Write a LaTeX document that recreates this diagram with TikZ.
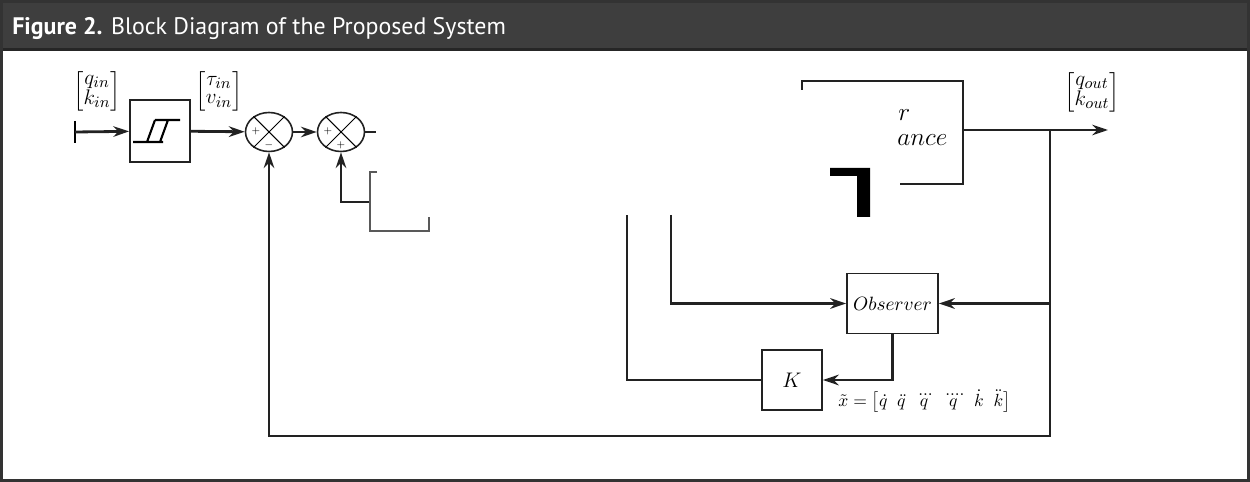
\documentclass[tikz,border=0pt]{standalone}
\usepackage{amsmath,amssymb}
\usepackage{fontspec}
\newfontfamily\headfont{PT Sans}
\usepackage{tikz}
\usetikzlibrary{shapes.geometric, arrows.meta, positioning, calc}
\definecolor{headgray}{HTML}{3E3E3E}
\definecolor{linegray}{HTML}{222222}

\begin{document}
\begin{tikzpicture}[x=0.02cm, y=-0.02cm,
    block/.style={rectangle, draw=linegray, line width=1pt, minimum width=1.2cm, minimum height=1.2cm, align=center, inner sep=0pt},
    summer/.style={ellipse, draw=linegray, line width=0.9pt, minimum width=0.94cm, minimum height=0.78cm, inner sep=0pt},
    sign/.style={font=\tiny, inner sep=0pt},
    arrow/.style={-{Stealth[length=9pt, width=6pt]}, line width=1.6pt, draw=linegray},
    wire/.style={line width=1.6pt, draw=linegray},
    thinwire/.style={line width=0.8pt, draw=black!65},
    vec/.style={inner sep=0pt, font=\fontsize{12.5}{14}\selectfont}
]
    \useasboundingbox (0,0) rectangle (1250,482);
    \fill[headgray] (0,0) rectangle (1250,50);
    \draw[black!85, line width=1.5pt] (0,49.5) -- (1250,49.5);
    \draw[black!80, line width=1.6pt] (1.5,1.5) rectangle (1248.5,480.5);
    \node[anchor=base west, text=white, inner sep=0pt, font=\headfont\fontsize{13.6}{16}\selectfont] (title) at (12,35) {\textbf{Figure 2.} Block Diagram of the Proposed System};

    \node[block, minimum height=1.24cm] (hyst) at (160,131) {};
    \draw[line width=1.2pt] (133,142) -- (163,142) (147,142) -- (155,120) (160,142) -- (168,120) (155,120) -- (180,120);
    \node[summer] (s1) at (269,132) {};
    \node[summer] (s2) at (341,132) {};
    \draw[line width=0.6pt] (s1.45) -- (s1.225) (s1.135) -- (s1.315);
    \draw[line width=0.6pt] (s2.45) -- (s2.225) (s2.135) -- (s2.315);
    \node[sign] (s1p) at (256,131) {$+$};
    \node[sign] (s1m) at (269,145) {$-$};
    \node[sign] (s2p) at (328,131) {$+$};
    \node[sign] (s2q) at (341,145) {$+$};

    \node[vec] (qin) at (97,91) {$\renewcommand{\arraystretch}{0.75}\begin{bmatrix} q_{in}\\ k_{in}\end{bmatrix}$};
    \node[vec] (tauin) at (219,91) {$\renewcommand{\arraystretch}{0.75}\begin{bmatrix} \tau_{in}\\ v_{in}\end{bmatrix}$};
    \node[vec] (qout) at (1092,92) {$\renewcommand{\arraystretch}{0.75}\begin{bmatrix} q_{out}\\ k_{out}\end{bmatrix}$};

    \draw[wire, line width=1.3pt] (802,90) -- (802,81) -- (963,81) -- (963,184) -- (900,184);
    \node[anchor=base west, inner sep=0pt, font=\fontsize{14}{16}\selectfont] (frag1) at (898,121) {$r$};
    \node[anchor=base west, inner sep=0pt, font=\fontsize{14}{16}\selectfont] (frag2) at (897,146) {$ance$};
    \fill[black] (830,168) -- (870,168) -- (870,217) -- (857,217) -- (857,176) -- (830,176) -- cycle;

    \node[block, minimum width=1.82cm, minimum height=1.2cm, font=\fontsize{11}{13}\selectfont] (obs) at (892.5,303.5) {$Observer$};
    \node[block, font=\fontsize{12.5}{14}\selectfont] (k) at (792,380) {$K$};
    \node[anchor=west, inner sep=0pt, font=\fontsize{9.8}{11}\selectfont] (xlab) at (838,401) {$\tilde{x}=\bigl[\dot q\;\;\ddot q\;\;\dddot q\;\;\ddddot q\;\;\dot k\;\;\ddot k\bigr]$};

    \coordinate (in) at (75,132);
    \coordinate (s2out) at (376,132);
    \coordinate (dist) at (370,202);
    \coordinate (plantout) at (963,130);
    \coordinate (yout) at (1108,130);
    \coordinate (tap) at (1050,130);
    \coordinate (fbcorner) at (1050,436);
    \coordinate (u1) at (671,215);
    \coordinate (u2) at (627,215);

    \draw[line width=1.1pt] ($(in)+(0,-11)$) -- ($(in)+(0,11)$);
    \draw[arrow] (in) -- (hyst);
    \draw[arrow] (hyst) -- (s1);
    \draw[arrow] (s1) -- (s2);
    \draw[wire] (s2) -- (s2out);
    \draw[arrow] (dist) -| (s2);
    \draw[thinwire] (377,172) -- (370,172) -- (370,231) -- (429,231) -- (429,217);
    \draw[arrow] (plantout) -- (yout);
    \draw[arrow] (tap) -- (fbcorner) -| (s1);
    \draw[arrow] (tap |- obs) -- (obs);
    \draw[arrow] (obs) |- (k);
    \draw[arrow] (u1) |- (obs);
    \draw[wire] (k) -| (u2);
\end{tikzpicture}
\end{document}
